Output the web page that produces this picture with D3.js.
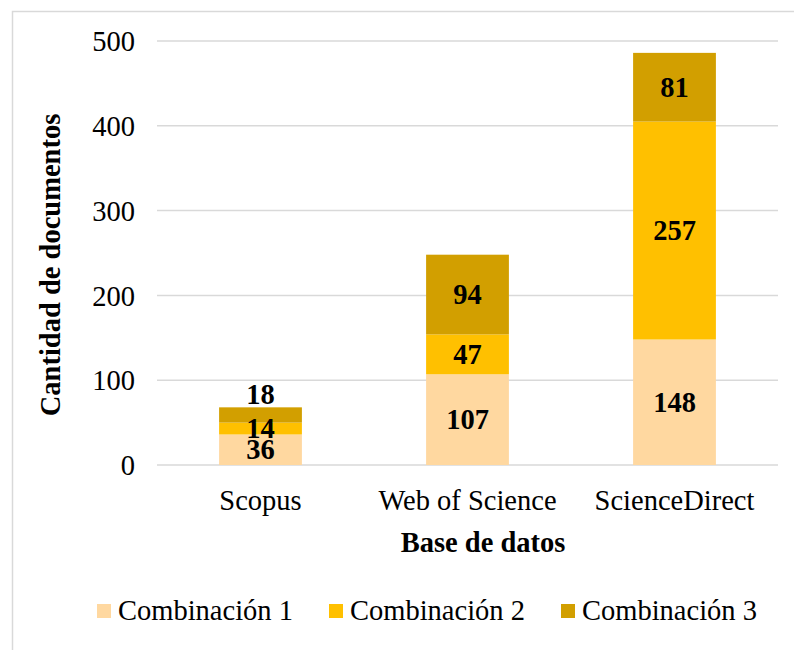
<!DOCTYPE html>
<html>
<head>
<meta charset="utf-8">
<script src="https://cdn.jsdelivr.net/npm/d3@7"></script>
<style>
  html, body { margin: 0; padding: 0; background: #fff; }
  svg { display: block; font-family: "Liberation Serif", "Times New Roman", serif; }
</style>
</head>
<body>
<svg id="chart" width="794" height="650"></svg>
<script>
const categories = ["Scopus", "Web of Science", "ScienceDirect"];
const seriesNames = ["Combinación 1", "Combinación 2", "Combinación 3"];
const combinacion1 = [36, 107, 148];
const combinacion2 = [14, 47, 257];
const combinacion3 = [18, 94, 81];
const yTicks = [0, 100, 200, 300, 400, 500];
const colors = ["#FFD8A0", "#FFC000", "#D29F00"];
const yTitle = "Cantidad de documentos";
const xTitle = "Base de datos";

const svg = d3.select("#chart");
const FS = 28.5;

// chart border
svg.append("rect").attr("x", 12.5).attr("y", 11.5).attr("width", 800).attr("height", 700)
  .attr("fill", "none").attr("stroke", "#d9d9d9").attr("stroke-width", 1.5);

const x = d3.scaleBand().domain(categories).range([157, 778]).paddingInner(0.6).paddingOuter(0.3);
const y = d3.scaleLinear().domain([0, 500]).range([465, 41]);

// gridlines
svg.append("g").selectAll("line").data(yTicks).join("line")
  .attr("x1", 157).attr("x2", 778)
  .attr("y1", d => y(d)).attr("y2", d => y(d))
  .attr("stroke", "#d9d9d9").attr("stroke-width", 1.5);

// y axis
const yAxis = svg.append("g").attr("transform", "translate(135,0)")
  .call(d3.axisLeft(y).tickValues(yTicks).tickSize(0).tickPadding(0));
yAxis.select(".domain").remove();
yAxis.selectAll("text").attr("font-size", FS).attr("font-family", "Liberation Serif")
  .attr("fill", "#000").attr("dy", "0.34em");

// x axis
const xAxis = svg.append("g").attr("transform", "translate(0,465)")
  .call(d3.axisBottom(x).tickSize(0).tickPadding(0));
xAxis.select(".domain").remove();
xAxis.selectAll("text").attr("font-size", FS).attr("font-family", "Liberation Serif")
  .attr("fill", "#000").attr("dy", null).attr("y", 45);

// stack data
const rows = categories.map((c, i) => ({
  cat: c,
  "Combinación 1": combinacion1[i],
  "Combinación 2": combinacion2[i],
  "Combinación 3": combinacion3[i]
}));
const stack = d3.stack().keys(seriesNames)(rows);

const groups = svg.append("g").selectAll("g").data(stack).join("g")
  .attr("fill", (d, i) => colors[i]);
groups.selectAll("rect").data(d => d).join("rect")
  .attr("x", d => x(d.data.cat))
  .attr("width", x.bandwidth())
  .attr("y", d => y(d[1]))
  .attr("height", d => y(d[0]) - y(d[1]));

// labels
const labels = svg.append("g");
stack.forEach((s, si) => {
  s.forEach(d => {
    const v = d[1] - d[0];
    const h = y(d[0]) - y(d[1]);
    const isTop = si === stack.length - 1;
    let cy = (y(d[0]) + y(d[1])) / 2;
    if (isTop && h < 20) cy = y(d[1]) - 13;
    labels.append("text")
      .attr("x", x(d.data.cat) + x.bandwidth() / 2)
      .attr("y", cy)
      .attr("dy", "0.34em")
      .attr("text-anchor", "middle")
      .attr("font-size", FS)
      .attr("font-weight", "bold")
      .text(v);
  });
});

// axis titles
svg.append("text")
  .attr("transform", "translate(60,265) rotate(-90)")
  .attr("text-anchor", "middle")
  .attr("font-size", FS).attr("font-weight", "bold")
  .text(yTitle);
svg.append("text")
  .attr("x", 483).attr("y", 552)
  .attr("text-anchor", "middle")
  .attr("font-size", FS).attr("font-weight", "bold")
  .text(xTitle);

// legend
const legendX = [97, 329, 561];
const legend = svg.append("g");
seriesNames.forEach((n, i) => {
  legend.append("rect").attr("x", legendX[i]).attr("y", 604).attr("width", 14).attr("height", 14)
    .attr("fill", colors[i]);
  legend.append("text").attr("x", legendX[i] + 21).attr("y", 620)
    .attr("font-size", FS).text(n);
});
</script>
</body>
</html>
